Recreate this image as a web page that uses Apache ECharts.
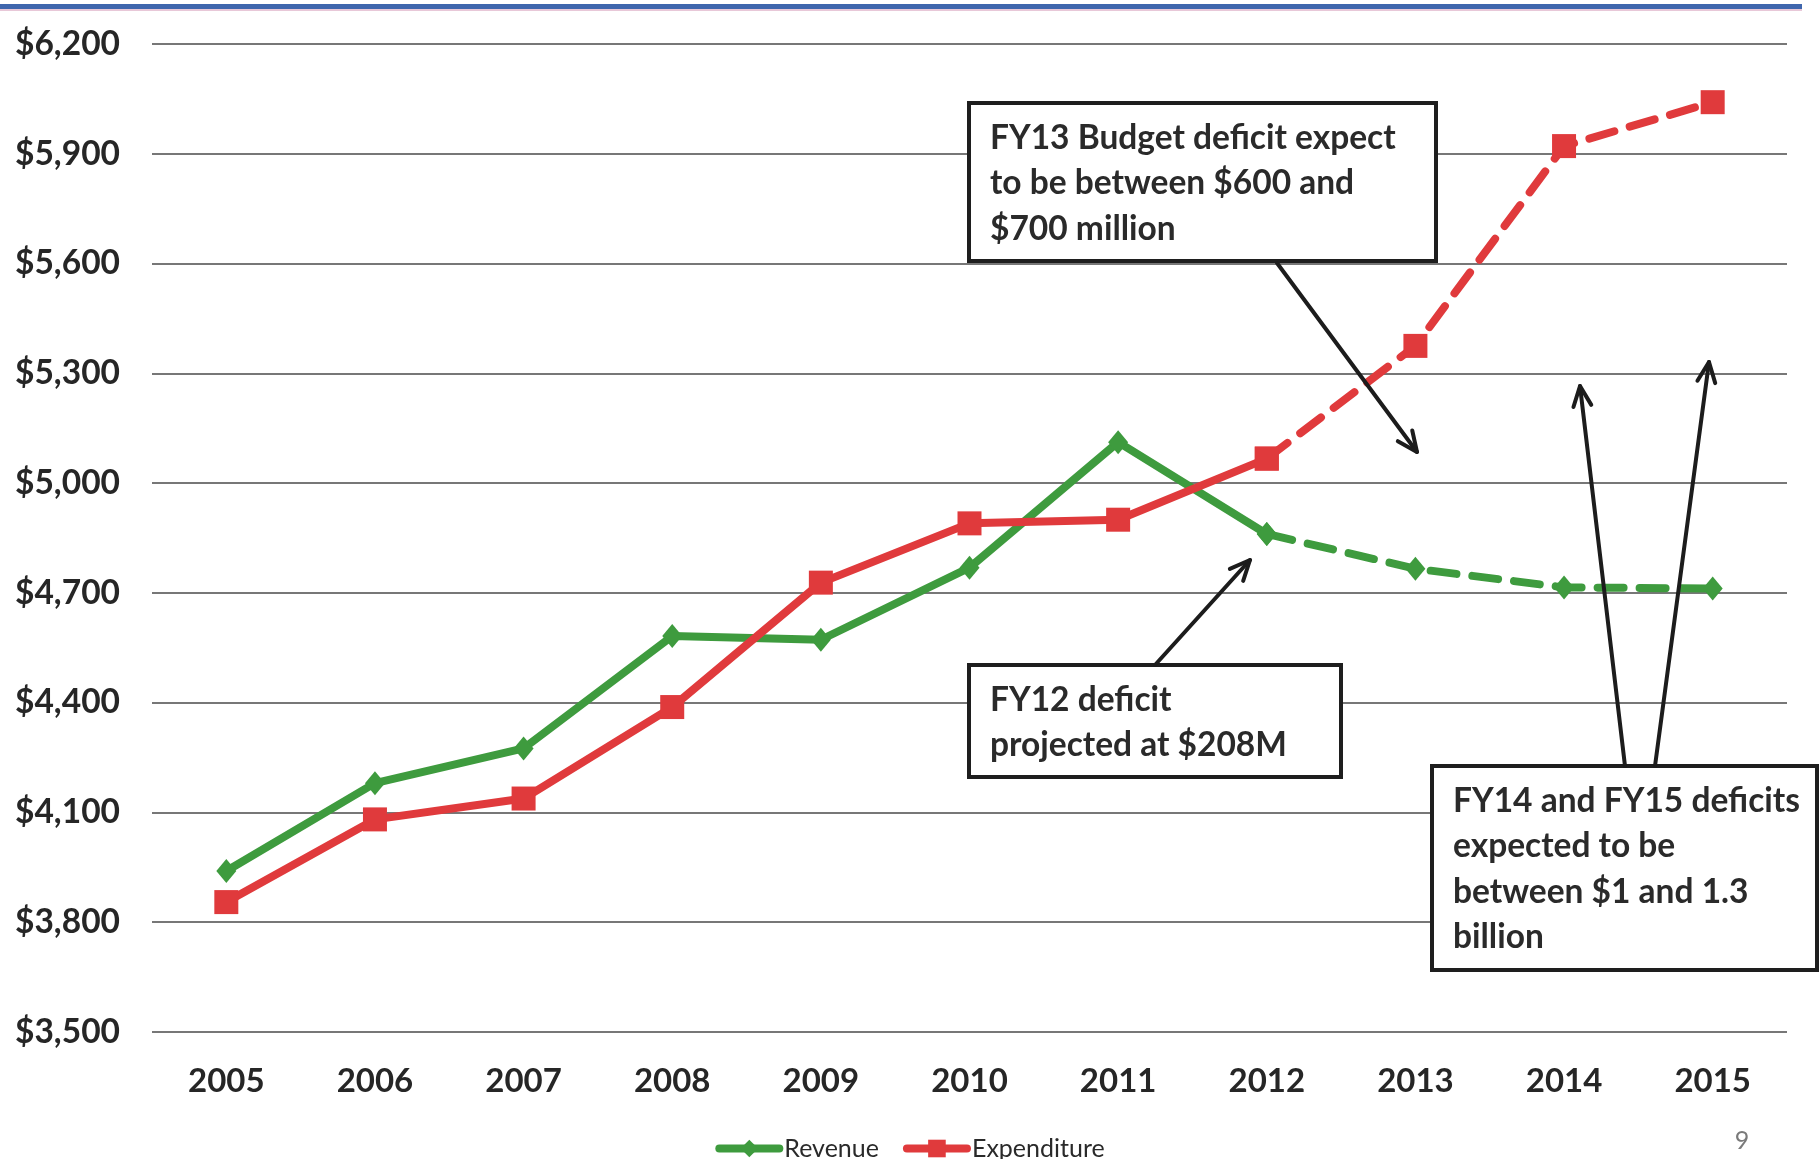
<!DOCTYPE html>
<html>
<head>
<meta charset="utf-8">
<script src="https://cdn.jsdelivr.net/npm/echarts@6/dist/echarts.min.js"></script>
<style>
  html, body { margin: 0; padding: 0; background: #fff; }
  #chart { width: 1820px; height: 1159px; }
</style>
</head>
<body>
<div id="chart"></div>
<script>
// Fiscal years on the category axis
const years = ['2005', '2006', '2007', '2008', '2009', '2010', '2011', '2012', '2013', '2014', '2015'];

// Revenue and expenditure ($ millions); 2013-2015 are projections
const revenue     = [3940, 4180, 4275, 4582, 4572, 4769, 5112, 4861, 4766, 4715, 4712];
const expenditure = [3855, 4081, 4138, 4388, 4728, 4890, 4900, 5067, 5375, 5921, 6041];

// Index of the last actual year; the projection is dashed from here on
const lastActual = years.indexOf('2012');

// Value axis range
const yMin = 3500, yMax = 6200, yStep = 300;

const GREEN = '#3e9b3e';
const RED = '#e03a3c';
const FONT = 'Lato, "Open Sans", sans-serif';

function actualPart(arr) {
  return arr.map((v, i) => (i <= lastActual ? v : null));
}
function projectedPart(arr) {
  return arr.map((v, i) => (i >= lastActual ? v : null));
}

function lineSeries(name, data, color, symbol, symbolSize, dashed) {
  return {
    name: name,
    type: 'line',
    data: data,
    symbol: symbol,
    symbolSize: symbolSize,
    showSymbol: true,
    connectNulls: false,
    itemStyle: { color: color },
    lineStyle: dashed
      ? { color: color, width: 8, type: [26, 16], cap: 'round' }
      : { color: color, width: 8, cap: 'round', join: 'round' },
    emphasis: { disabled: true },
    animation: false
  };
}

// Callout arrow: a straight shaft with an open chevron head
function arrow(x1, y1, x2, y2) {
  const ang = Math.atan2(y2 - y1, x2 - x1);
  const len = 22, spread = 0.42;
  const a1 = ang + Math.PI - spread, a2 = ang + Math.PI + spread;
  const style = { stroke: '#1c1c1c', lineWidth: 4, fill: null, lineCap: 'round', lineJoin: 'round' };
  return [
    { type: 'line', z: 100, shape: { x1: x1, y1: y1, x2: x2, y2: y2 }, style: style },
    { type: 'polyline', z: 100, shape: { points: [
        [x2 + len * Math.cos(a1), y2 + len * Math.sin(a1)],
        [x2, y2],
        [x2 + len * Math.cos(a2), y2 + len * Math.sin(a2)]
      ] }, style: style }
  ];
}

// Framed text callout
function callout(x, y, w, h, lines) {
  return {
    type: 'group', z: 100,
    children: [
      { type: 'rect', z: 100, shape: { x: x, y: y, width: w, height: h },
        style: { fill: '#fff', stroke: '#1e1e1e', lineWidth: 4 } },
      { type: 'text', z: 101, x: x + 21, y: y + 12,
        style: { text: lines.join('\n'), font: 'bold 33.5px ' + FONT, fill: '#2a2a2a',
                 lineHeight: 45.5, textVerticalAlign: 'top' } }
    ]
  };
}

const chart = echarts.init(document.getElementById('chart'), null, { renderer: 'canvas' });

const option = {
  backgroundColor: '#ffffff',
  animation: false,
  grid: { left: 152, right: 33, top: 44, bottom: 127, containLabel: false },
  legend: {
    data: ['Revenue', 'Expenditure'],
    left: 'center',
    top: 1131,
    itemWidth: 60,
    itemHeight: 22,
    itemGap: 24,
    lineStyle: { width: 8, cap: 'round' },
    textStyle: { fontFamily: FONT, fontSize: 25, color: '#2a2a2a' },
    selectedMode: false
  },
  xAxis: {
    type: 'category',
    data: years,
    boundaryGap: true,
    axisLine: { show: false },
    axisTick: { show: false },
    axisLabel: { margin: 33, fontFamily: FONT, fontWeight: 'bold', fontSize: 33, color: '#262626' }
  },
  yAxis: {
    type: 'value',
    min: yMin,
    max: yMax,
    interval: yStep,
    axisLine: { show: false },
    axisTick: { show: false },
    splitLine: { lineStyle: { color: '#4a4a4a', width: 1.6 } },
    axisLabel: {
      margin: 32,
      fontFamily: FONT, fontWeight: 'bold', fontSize: 33.5, color: '#262626',
      formatter: v => '$' + v.toLocaleString('en-US')
    }
  },
  series: [
    lineSeries('Revenue', actualPart(revenue), GREEN, 'diamond', [20, 24], false),
    lineSeries('Expenditure', actualPart(expenditure), RED, 'rect', 24, false),
    lineSeries('Revenue', projectedPart(revenue), GREEN, 'diamond', [20, 24], true),
    lineSeries('Expenditure', projectedPart(expenditure), RED, 'rect', 24, true)
  ],
  graphic: [
    // slide header rule
    { type: 'rect', z: 50, shape: { x: 0, y: 4, width: 1802, height: 5 }, style: { fill: '#3f66ad' } },
    { type: 'rect', z: 50, shape: { x: 0, y: 9, width: 1802, height: 2 }, style: { fill: '#e8c8d8' } },
    // slide number
    { type: 'text', z: 50, x: 1742, y: 1141,
      style: { text: '9', font: '25px ' + FONT, fill: '#7a7a7a', textAlign: 'center', textVerticalAlign: 'middle' } },

    callout(969, 103, 467, 158, ['FY13 Budget deficit expect', 'to be between $600 and', '$700 million']),
    ...arrow(1277, 263, 1417, 452),

    callout(969, 665, 372, 112, ['FY12 deficit', 'projected at $208M']),
    ...arrow(1155, 665, 1250, 560),

    callout(1432, 766, 385, 204, ['FY14 and FY15 deficits', 'expected to be', 'between $1 and 1.3', 'billion']),
    ...arrow(1625, 766, 1580, 386),
    ...arrow(1655, 766, 1709, 362)
  ]
};

chart.setOption(option);
</script>
</body>
</html>
